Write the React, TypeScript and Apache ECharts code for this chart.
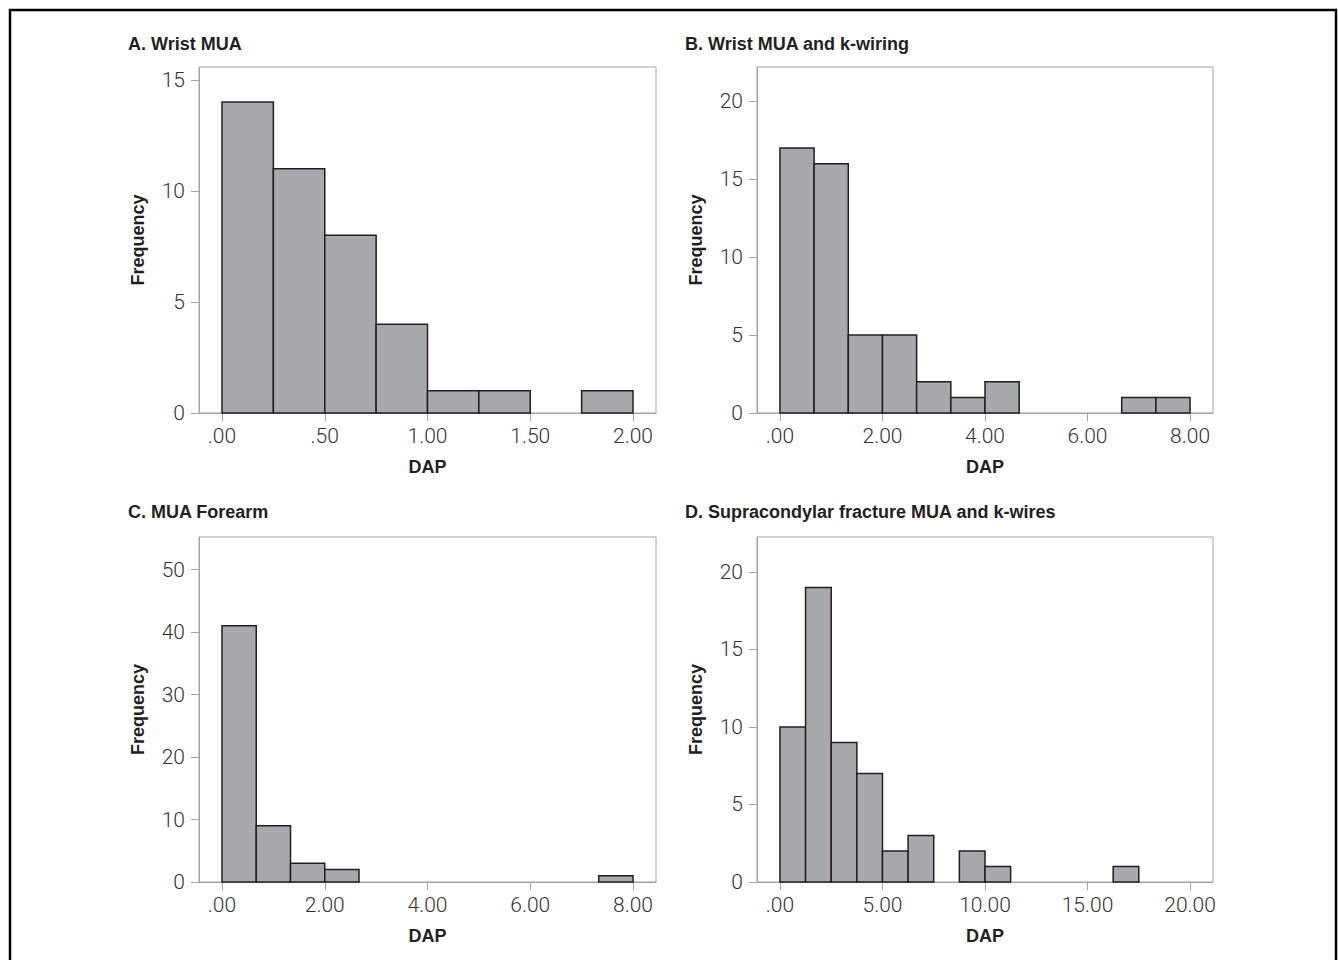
import React, { useEffect, useRef } from "react";
import * as echarts from "echarts";

// ---- data ----
const titles = [
  "A. Wrist MUA",
  "B. Wrist MUA and k-wiring",
  "C. MUA Forearm",
  "D. Supracondylar fracture MUA and k-wires",
];

// histogram bin widths (DAP units)
const binWidthA = 0.25;
const binWidthB = 2 / 3;
const binWidthC = 2 / 3;
const binWidthD = 1.25;

// frequencies per bin, starting at DAP = 0
const countsA = [14, 11, 8, 4, 1, 1, 0, 1];
const countsB = [17, 16, 5, 5, 2, 1, 2, 0, 0, 0, 1, 1];
const countsC = [41, 9, 3, 2, 0, 0, 0, 0, 0, 0, 0, 1];
const countsD = [10, 19, 9, 7, 2, 3, 0, 2, 1, 0, 0, 0, 0, 1];

// axis tick values
const xTicksA = [0, 0.5, 1, 1.5, 2];
const xTicksB = [0, 2, 4, 6, 8];
const xTicksC = [0, 2, 4, 6, 8];
const xTicksD = [0, 5, 10, 15, 20];
const yTicksA = [0, 5, 10, 15];
const yTicksB = [0, 5, 10, 15, 20];
const yTicksC = [0, 10, 20, 30, 40, 50];
const yTicksD = [0, 5, 10, 15, 20];

// axis value extents
const xEndA = 2;
const xEndB = 8;
const xEndC = 8;
const xEndD = 20;
const yTopA = 15.58;
const yTopB = 22.2;
const yTopC = 55.2;
const yTopD = 22.25;

const panels = [
  { counts: countsA, w: binWidthA, xTicks: xTicksA, yTicks: yTicksA, xEnd: xEndA, yTop: yTopA },
  { counts: countsB, w: binWidthB, xTicks: xTicksB, yTicks: yTicksB, xEnd: xEndB, yTop: yTopB },
  { counts: countsC, w: binWidthC, xTicks: xTicksC, yTicks: yTicksC, xEnd: xEndC, yTop: yTopC },
  { counts: countsD, w: binWidthD, xTicks: xTicksD, yTicks: yTicksD, xEnd: xEndD, yTop: yTopD },
];

// layout
const grids = [
  { left: 199, top: 67, width: 457, height: 346 },
  { left: 757, top: 67, width: 456, height: 346 },
  { left: 199, top: 537, width: 457, height: 345 },
  { left: 757, top: 537, width: 456, height: 345 },
];
const titlePos = [
  { x: 128, y: 44 },
  { x: 685, y: 44 },
  { x: 128, y: 512 },
  { x: 685, y: 512 },
];

const AXIS_GRAY = "#a3a3a3";
const INK = "#231f20";
const LABEL_FONT = "Roboto, 'Liberation Sans', sans-serif";
const BOLD_FONT = "'Liberation Sans', Arial, sans-serif";

function fmtX(v: number) {
  const s = v.toFixed(2);
  return s.startsWith("0.") ? s.slice(1) : s;
}

export default function App() {
  const ref = useRef<HTMLDivElement>(null);

  useEffect(() => {
    if (!ref.current) return;
    const chart = echarts.init(ref.current, null, { renderer: "svg" });

    const xAxes: any[] = [];
    const yAxes: any[] = [];
    const series: any[] = [];

    panels.forEach((p, i) => {
      const pad = (p.xEnd * 23) / 411;
      xAxes.push({
        type: "value",
        gridIndex: i,
        min: -pad,
        max: p.xEnd + pad,
        name: "DAP",
        nameLocation: "middle",
        nameGap: 45,
        nameTextStyle: { fontFamily: BOLD_FONT, fontWeight: "bold", fontSize: 18, color: INK },
        axisLine: { show: true, onZero: false, lineStyle: { color: AXIS_GRAY, width: 1 } },
        axisTick: {
          show: true,
          inside: false,
          customValues: p.xTicks,
          length: 8,
          lineStyle: { color: AXIS_GRAY, width: 1 },
        },
        axisLabel: {
          customValues: p.xTicks,
          formatter: (v: number) => fmtX(v),
          fontFamily: LABEL_FONT,
          fontWeight: 300,
          fontSize: 21,
          color: "#333",
          margin: 12,
        },
        splitLine: { show: false },
      });
      yAxes.push({
        type: "value",
        gridIndex: i,
        min: 0,
        max: p.yTop,
        name: "Frequency",
        nameLocation: "middle",
        nameGap: 52,
        nameTextStyle: { fontFamily: BOLD_FONT, fontWeight: "bold", fontSize: 18, color: INK },
        axisLine: { show: true, onZero: false, lineStyle: { color: AXIS_GRAY, width: 1 } },
        axisTick: {
          show: true,
          inside: false,
          customValues: p.yTicks,
          length: 8,
          lineStyle: { color: AXIS_GRAY, width: 1 },
        },
        axisLabel: {
          customValues: p.yTicks,
          fontFamily: LABEL_FONT,
          fontWeight: 300,
          fontSize: 21,
          color: "#333",
          margin: 14,
        },
        splitLine: { show: false },
      });
      const data = p.counts
        .map((c, k) => [k * p.w, (k + 1) * p.w, c])
        .filter((d) => d[2] > 0);
      series.push({
        type: "custom",
        xAxisIndex: i,
        yAxisIndex: i,
        encode: { x: [0, 1], y: 2 },
        data,
        renderItem: (params: any, api: any) => {
          const p0 = api.coord([api.value(0), api.value(2)]);
          const p1 = api.coord([api.value(1), 0]);
          return {
            type: "rect",
            shape: { x: p0[0], y: p0[1], width: p1[0] - p0[0], height: p1[1] - p0[1] },
            style: { fill: "#a8a9ad", stroke: INK, lineWidth: 1.5 },
          };
        },
      });
    });

    const graphic: any[] = [
      {
        type: "rect",
        shape: { x: 10, y: 10, width: 1326, height: 1000 },
        style: { fill: "none", stroke: "#000", lineWidth: 2.5 },
        silent: true,
      },
      ...titles.map((t, i) => ({
        type: "text",
        x: titlePos[i].x,
        y: titlePos[i].y,
        style: {
          text: t,
          fontFamily: BOLD_FONT,
          fontWeight: "bold",
          fontSize: 18,
          fill: INK,
          textVerticalAlign: "middle",
          verticalAlign: "middle",
        },
      })),
    ];

    chart.setOption({
      animation: false,
      backgroundColor: "#fff",
      grid: grids.map((g) => ({
        ...g,
        show: true,
        borderColor: AXIS_GRAY,
        borderWidth: 1,
        backgroundColor: "transparent",
        containLabel: false,
      })),
      xAxis: xAxes,
      yAxis: yAxes,
      series,
      graphic,
    });

    return () => chart.dispose();
  }, []);

  return (
    <div
      ref={ref}
      style={{ position: "fixed", left: 0, top: 0, width: 1338, height: 960 }}
    />
  );
}
